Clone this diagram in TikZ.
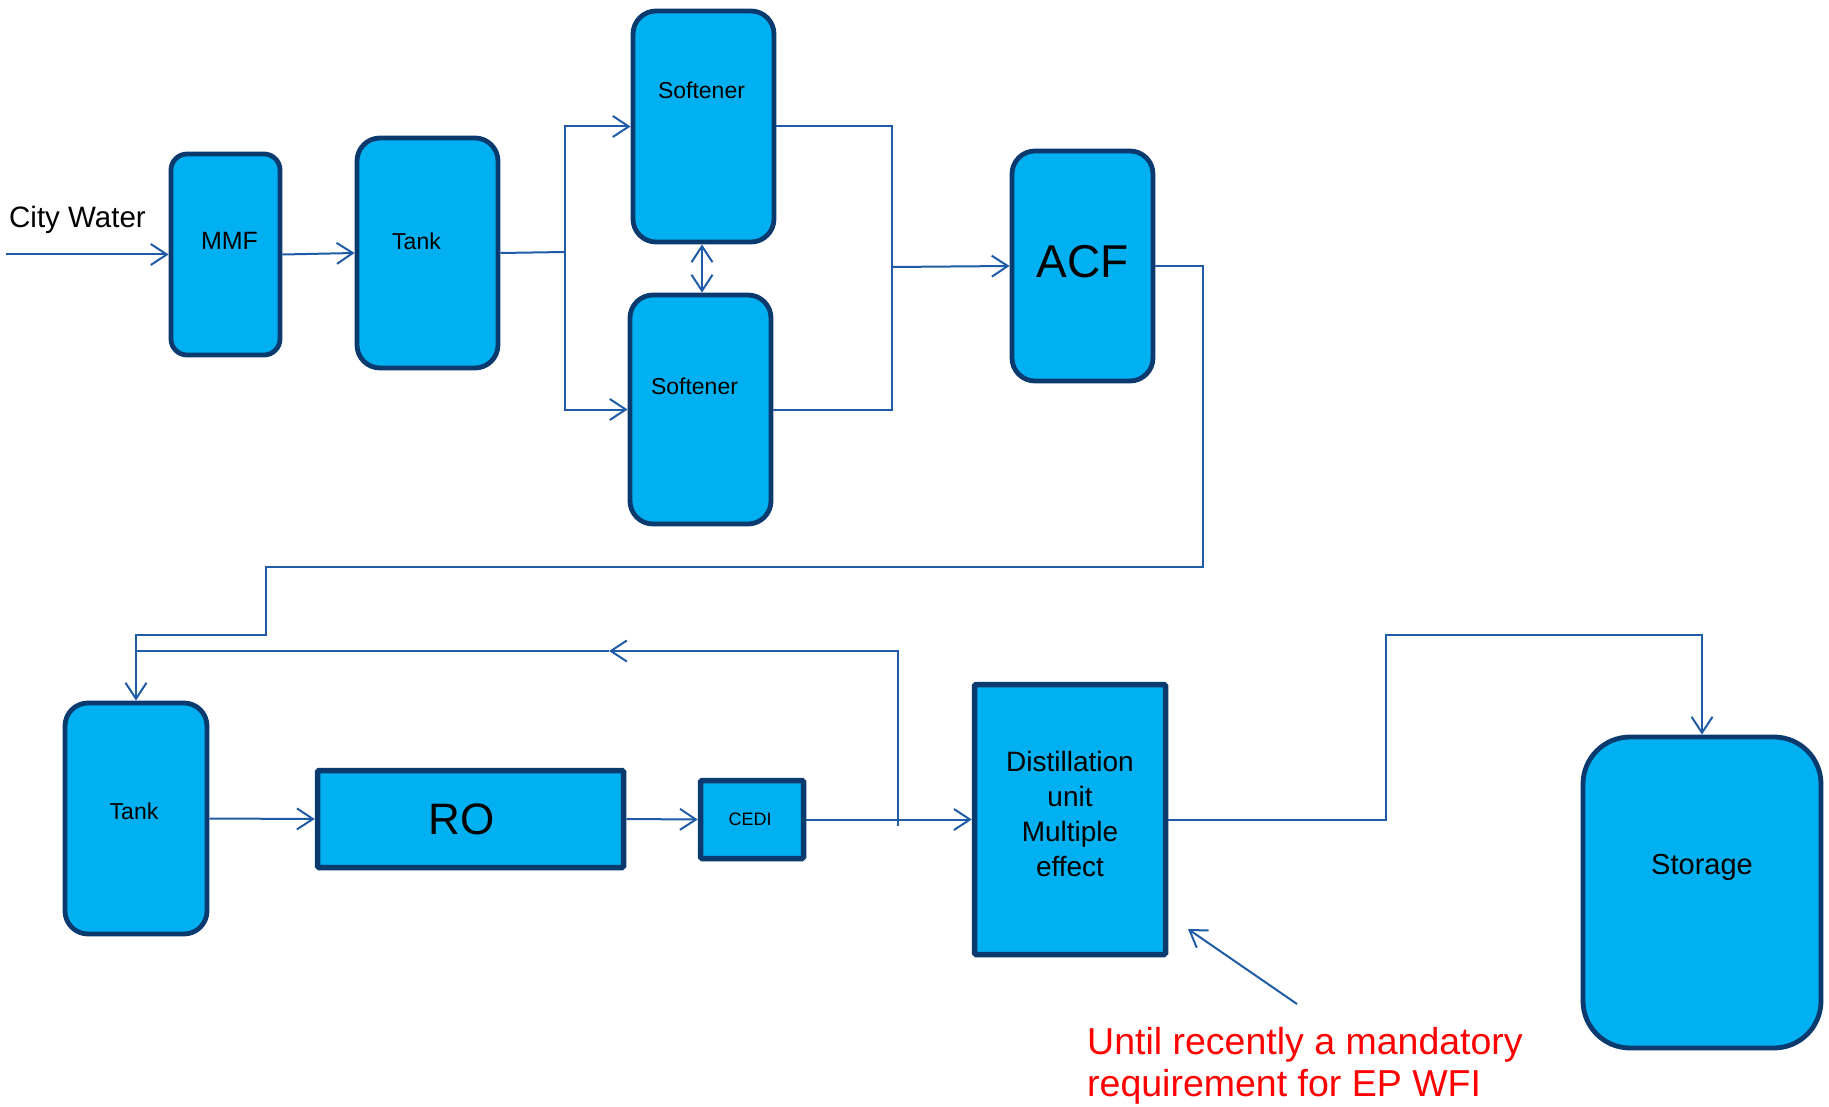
\documentclass[tikz,border=0pt]{standalone}
\usepackage{fontspec}
\setmainfont{Liberation Sans}
\usetikzlibrary{arrows.meta}
\definecolor{PlantFill}{HTML}{00B0F0}
\definecolor{PlantEdge}{HTML}{0B3A6E}
\definecolor{PipeBlue}{HTML}{1F5BA6}
\definecolor{NoteRed}{HTML}{FF0000}

\tikzset{
  vessel/.style={draw=PlantEdge, fill=PlantFill, line width=4.8pt, rounded corners=23pt, inner sep=0pt},
  unitbox/.style={draw=PlantEdge, fill=PlantFill, line width=5.5pt, rounded corners=1.5pt, inner sep=0pt},
  pipe/.style={draw=PipeBlue, line width=2pt},
  flow/.style={pipe, -{Straight Barb[length=16pt, width=21pt]}},
  boxtext/.style={text=black, inner sep=0pt, font=\fontsize{#1}{#1}\selectfont},
}

\begin{document}
\begin{tikzpicture}[x=1pt, y=-1pt]
  \useasboundingbox (0,0) rectangle (1829,1107);

  % pretreatment train
  \node[anchor=base west, inner sep=0pt, font=\fontsize{29.5}{29.5}\selectfont] (cwtxt) at (9,228) {City Water};
  \node[vessel, rounded corners=16pt, minimum width=109pt, minimum height=201pt,
        label={[boxtext=25, xshift=4pt, yshift=14pt]center:MMF}] (mmf) at (225.5,254.5) {};
  \node[vessel, minimum width=141pt, minimum height=230pt,
        label={[boxtext=23, xshift=-11pt, yshift=12pt]center:Tank}] (tankA) at (427.5,253) {};
  \node[vessel, minimum width=141pt, minimum height=231pt,
        label={[boxtext=23, xshift=-2pt, yshift=36pt]center:Softener}] (softA) at (703.5,126.5) {};
  \node[vessel, minimum width=141pt, minimum height=229pt,
        label={[boxtext=23, xshift=-6pt, yshift=23pt]center:Softener}] (softB) at (700.5,409.5) {};
  \node[vessel, minimum width=141pt, minimum height=230pt,
        label={[boxtext=46, yshift=4pt]center:ACF}] (acf) at (1082.5,266) {};

  % polishing train
  \node[vessel, minimum width=142pt, minimum height=231pt,
        label={[boxtext=23, xshift=-2pt, yshift=7pt]center:Tank}] (tankB) at (136,818.5) {};
  \node[unitbox, minimum width=306pt, minimum height=97pt,
        label={[boxtext=44, xshift=-9pt]center:RO}] (ro) at (470.5,819) {};
  \node[unitbox, minimum width=103pt, minimum height=78pt,
        label={[boxtext=18, xshift=-2pt]center:CEDI}] (cedi) at (752,819.5) {};
  \node[unitbox, minimum width=191pt, minimum height=270pt,
        label={[boxtext=28, yshift=6pt, align=center, font=\fontsize{28}{35}\selectfont]center:Distillation\\unit\\Multiple\\effect}] (dist) at (1070,819.5) {};
  \node[vessel, rounded corners=47pt, minimum width=238pt, minimum height=311pt,
        label={[boxtext=29, yshift=25pt]center:Storage}] (store) at (1702,892.5) {};

  \node[anchor=north west, inner sep=0pt, align=left, text=NoteRed,
        font=\fontsize{37.5}{42}\selectfont] (note) at (1087,1027) {Until recently a mandatory\\requirement for EP WFI};

  % bend points
  \coordinate (cwin) at (6,254.5);
  \coordinate (split) at (565,252);
  \coordinate (merge) at (892,267);
  \coordinate (drop) at (1203,567);
  \coordinate (jog) at (266,635);
  \coordinate (tap) at (898,826);
  \coordinate (retmid) at (609,651);
  \coordinate (ret) at (136,651);
  \coordinate (rise) at (1386,635);
  \coordinate (ptr) at (1297,1004);
  \coordinate (ptrtip) at (1188,929);

  % pipes
  \draw[flow] (cwin) -- (mmf.west);
  \draw[flow] (mmf.east) -- (tankA.west);
  \draw[pipe] (tankA.east) -- (split);
  \draw[flow] (split) |- (softA.west);
  \draw[flow] (split) |- (softB.west);
  \draw[{Straight Barb[length=16pt, width=21pt]}-{Straight Barb[length=16pt, width=21pt]}, pipe]
    ([xshift=-1.5pt]softA.south) -- ([xshift=1.5pt]softB.north);
  \draw[pipe] (softA.east) -| (merge);
  \draw[pipe] (softB.east) -| (merge);
  \draw[flow] (merge) -- (acf.west);
  \draw[flow] (acf.east) -| (drop) -| (jog) -| (tankB.north);
  \draw[flow] (tankB.east) -- (ro.west);
  \draw[flow] (ro.east) -- (cedi.west);
  \draw[flow] (cedi.east) -- (dist.west);
  \draw[flow] (tap) |- (retmid);
  \draw[pipe] (retmid) -- (ret);
  \draw[flow] (dist.east) -| (rise) -| (store.north);
  \draw[flow] (ptr) -- (ptrtip);
\end{tikzpicture}
\end{document}
